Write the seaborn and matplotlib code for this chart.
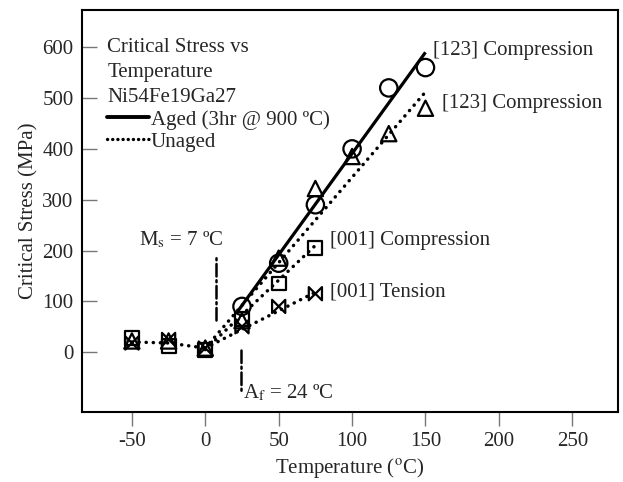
import numpy as np
import pandas as pd
import matplotlib
matplotlib.use("Agg")
import matplotlib.pyplot as plt
from matplotlib.path import Path
from matplotlib.lines import Line2D
import seaborn as sns

# ---- data ----
temp_aged = [25, 50, 75, 100, 125, 150]
stress_aged_123 = [90, 175, 290, 400, 520, 560]

temp_unaged_123 = [-50, -25, 0, 25, 50, 75, 100, 125, 150]
stress_unaged_123 = [22, 22, 8, 62, 185, 322, 385, 430, 480]

temp_001c = [-50, -25, 0, 25, 50, 75]
stress_001c = [28, 12, 5, 65, 135, 205]

temp_001t = [-50, -25, 0, 25, 50, 75]
stress_001t = [18, 25, 8, 50, 90, 115]

# fitted / guide lines
aged_fit_x = [22, 150]
aged_fit_y = [80, 590]
unaged_low_x = [-50, -25, 0]
unaged_low_y = [20, 18, 8]
unaged_123_fit_x = [0, 150]
unaged_123_fit_y = [8, 512]
unaged_001c_fit_x = [0, 75]
unaged_001c_fit_y = [5, 210]
unaged_001t_fit_x = [0, 75]
unaged_001t_fit_y = [8, 118]

ms_temp, ms_range = 7, [63, 191]
af_temp, af_range = 24, [5, -78]

x_ticks = [-50, 0, 50, 100, 150, 200, 250]
y_ticks = [0, 100, 200, 300, 400, 500, 600]

# ---- style ----
sns.set_style("white")
plt.rcParams["font.family"] = ["Liberation Serif", "DejaVu Serif"]
plt.rcParams["mathtext.fontset"] = "stix"
FS = 15

fig = plt.figure(figsize=(6.23, 4.82), dpi=100)
ax = fig.add_axes([0.1316, 0.145, 0.860, 0.835])

dot = (0, (0.05, 2.0))

def line(x, y, ls, lw):
    sns.lineplot(x=x, y=y, ax=ax, color="black", linestyle=ls, linewidth=lw,
                 solid_capstyle="butt", dash_capstyle="round", estimator=None,
                 sort=False, legend=False)

line(unaged_low_x, unaged_low_y, dot, 2.5)
line(unaged_123_fit_x, unaged_123_fit_y, dot, 2.5)
line(unaged_001c_fit_x, unaged_001c_fit_y, dot, 2.5)
line(unaged_001t_fit_x, unaged_001t_fit_y, dot, 2.5)
line(aged_fit_x, aged_fit_y, "-", 2.3)

# transition temperature markers
dashdot = (0, (5, 1.5, 0.8, 1.5))
line([ms_temp, ms_temp], ms_range, dashdot, 1.8)
line([af_temp, af_temp], af_range, dashdot, 1.8)

bowtie = Path([(-1, 1), (1, -1), (1, 1), (-1, -1), (-1, 1)],
              [Path.MOVETO, Path.LINETO, Path.LINETO, Path.LINETO, Path.CLOSEPOLY])

def pts(x, y, marker, size):
    sns.scatterplot(x=x, y=y, ax=ax, marker=marker, s=size ** 2,
                    facecolor="none", edgecolor="black", linewidth=1.6,
                    legend=False, zorder=5)

pts(temp_aged, stress_aged_123, "o", 12.5)
pts(temp_unaged_123, stress_unaged_123, "^", 11)
pts(temp_001c, stress_001c, "s", 10)
pts(temp_001t, stress_001t, bowtie, 9.5)

ax.set_xlim(-84, 281)
ax.set_ylim(-118, 674)
ax.set_xticks(x_ticks)
ax.set_yticks(y_ticks)
ax.set_xticklabels([str(v) for v in x_ticks], fontsize=FS)
ax.set_yticklabels([str(v) for v in y_ticks], fontsize=FS)
ax.tick_params(axis="x", direction="out", length=10, width=1, color="#777777", pad=4)
ax.tick_params(axis="y", direction="in", length=10.5, width=1, color="#777777", pad=6)
ax.tick_params(axis="y", left=True)
ax.tick_params(axis="x", bottom=True)
for s in ax.spines.values():
    s.set_visible(True)
    s.set_color("black")
    s.set_linewidth(1.5)

ax.set_xlabel("Temperature ($^{\\mathrm{o}}$C)", fontsize=FS, labelpad=4)
ax.set_ylabel("Critical Stress (MPa)", fontsize=FS, labelpad=3)

# annotations
ax.text(155, 594, "[123] Compression", fontsize=FS, va="center", ha="left")
ax.text(161, 490, "[123] Compression", fontsize=FS, va="center", ha="left")
ax.text(85, 220, "[001] Compression", fontsize=FS, va="center", ha="left")
ax.text(85, 118, "[001] Tension", fontsize=FS, va="center", ha="left")
ax.text(-45, 220, "M$_\\mathrm{s}$ = 7 \u00baC", fontsize=FS, va="center", ha="left")
ax.text(26, -80, "A$_\\mathrm{f}$ = 24 \u00baC", fontsize=FS, va="center", ha="left")

handles = [Line2D([], [], color="black", linewidth=2.8, linestyle="-"),
           Line2D([], [], color="black", linewidth=2.4, linestyle=(0, (0.05, 1.5)),
                  dash_capstyle="round")]
leg = ax.legend(handles, ["Aged (3hr @ 900 \u00baC)", "Unaged"],
                title="Critical Stress vs\nTemperature\nNi54Fe19Ga27",
                loc="upper left", bbox_to_anchor=(0.047, 0.93), frameon=False,
                fontsize=FS, title_fontsize=FS, handlelength=2.0,
                handletextpad=0.1, borderpad=0, borderaxespad=0,
                labelspacing=0.12, alignment="left")
leg.get_title().set_linespacing(1.45)

fig.savefig("out.png", dpi=100)
